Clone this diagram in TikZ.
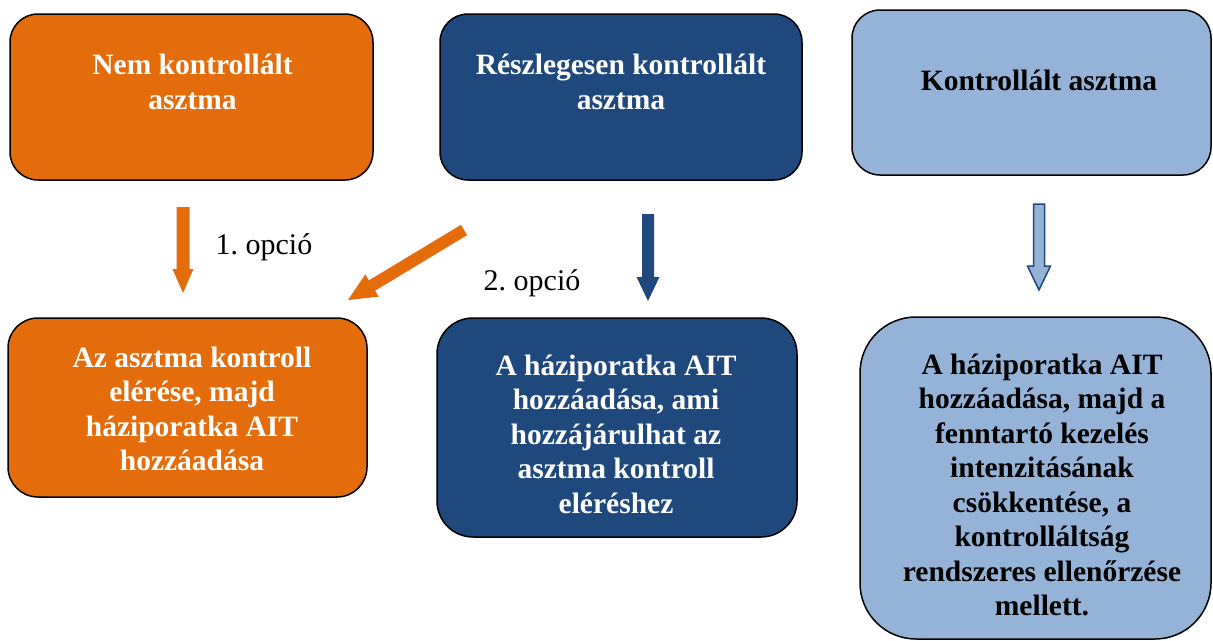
\documentclass[tikz,border=0pt]{standalone}
\usepackage{fontspec}
\setmainfont{Liberation Serif}
\usetikzlibrary{calc}
\frenchspacing

\definecolor{ordOrange}{HTML}{E46C0A}
\definecolor{ordNavy}{HTML}{1F497D}
\definecolor{ordSky}{HTML}{95B3D7}

% block arrow: start, end, half shaft, half head width, head length, style
\newcommand\ordBlockArrow[6]{%
  \coordinate (neck) at ($(#2)!#5!(#1)$);
  \path[#6] ($(#1)!#3!90:(#2)$) -- ($(neck)!#3!90:(#2)$) -- ($(neck)!#4!90:(#2)$)
    -- (#2) -- ($(neck)!#4!-90:(#2)$) -- ($(neck)!#3!-90:(#2)$)
    -- ($(#1)!#3!-90:(#2)$) -- cycle;
}

\tikzset{
  box/.style={draw=black, line width=1.5pt, inner sep=0pt, outer sep=0pt, anchor=north west},
  boxtext/.style={align=center, inner sep=0pt,
    font=\fontsize{29.5}{34.5}\selectfont\bfseries},
  optlabel/.style={inner sep=0pt, font=\fontsize{30}{36}\selectfont},
}

\begin{document}
\begin{tikzpicture}[x=1pt, y=-1pt]
  \useasboundingbox (0,0) rectangle (1213,640);

  % upper row: the three control levels
  \node[box, fill=ordOrange, rounded corners=28pt, minimum width=363pt, minimum height=166pt] (na) at (10,14) {};
  \node[box, fill=ordNavy, rounded corners=28pt, minimum width=362pt, minimum height=166pt] (nb) at (440,14) {};
  \node[box, fill=ordSky, rounded corners=28pt, minimum width=359pt, minimum height=165pt] (nc) at (852,10) {};

  \node[boxtext, text=white] (ta) at (192.5,82) {Nem kontrollált\\asztma};
  \node[boxtext, text=white] (tb) at (621,82) {Részlegesen kontrollált\\asztma};
  \node[boxtext, text=black] (tc) at (1039,80) {Kontrollált asztma};

  % lower row: recommended steps
  \node[box, fill=ordOrange, rounded corners=30pt, minimum width=359pt, minimum height=179pt] (nd) at (8,318) {};
  \node[box, fill=ordNavy, rounded corners=36pt, minimum width=360pt, minimum height=219pt] (ne) at (437,318) {};
  \node[box, fill=ordSky, rounded corners=56pt, minimum width=351pt, minimum height=322pt] (nf) at (860,317) {};

  \node[boxtext, text=white] (td) at (192,409) {Az asztma kontroll\\elérése, majd\\háziporatka AIT\\hozzáadása};
  \node[boxtext, text=white] (te) at (616,434) {A háziporatka AIT\\hozzáadása, ami\\hozzájárulhat az\\asztma kontroll\\eléréshez};
  \node[boxtext, text=black] (tf) at (1042,485) {A háziporatka AIT\\hozzáadása, majd a\\fenntartó kezelés\\intenzitásának\\csökkentése, a\\kontrolláltság\\rendszeres ellenőrzése\\mellett.};

  % arrow end points
  \coordinate (a1s) at (183,207);
  \coordinate (a1e) at (183,293);
  \coordinate (a2s) at (464,230);
  \coordinate (a2e) at (348,300);
  \coordinate (a3s) at (648,214);
  \coordinate (a3e) at (648,301);
  \coordinate (a4s) at (1039,204);
  \coordinate (a4e) at (1039,290);

  \ordBlockArrow{a1s}{a1e}{6.5pt}{10.5pt}{24pt}{fill=ordOrange}
  \ordBlockArrow{a2s}{a2e}{6pt}{13pt}{28pt}{fill=ordOrange}
  \ordBlockArrow{a3s}{a3e}{6pt}{11.5pt}{24pt}{fill=ordNavy}
  \ordBlockArrow{a4s}{a4e}{5.5pt}{11.5pt}{24pt}{fill=ordSky, draw=ordNavy, line width=1.5pt, line join=miter}

  % option labels
  \node[optlabel] (o1) at (264,247) {1. opció};
  \node[optlabel] (o2) at (532,283) {2. opció};
\end{tikzpicture}
\end{document}
